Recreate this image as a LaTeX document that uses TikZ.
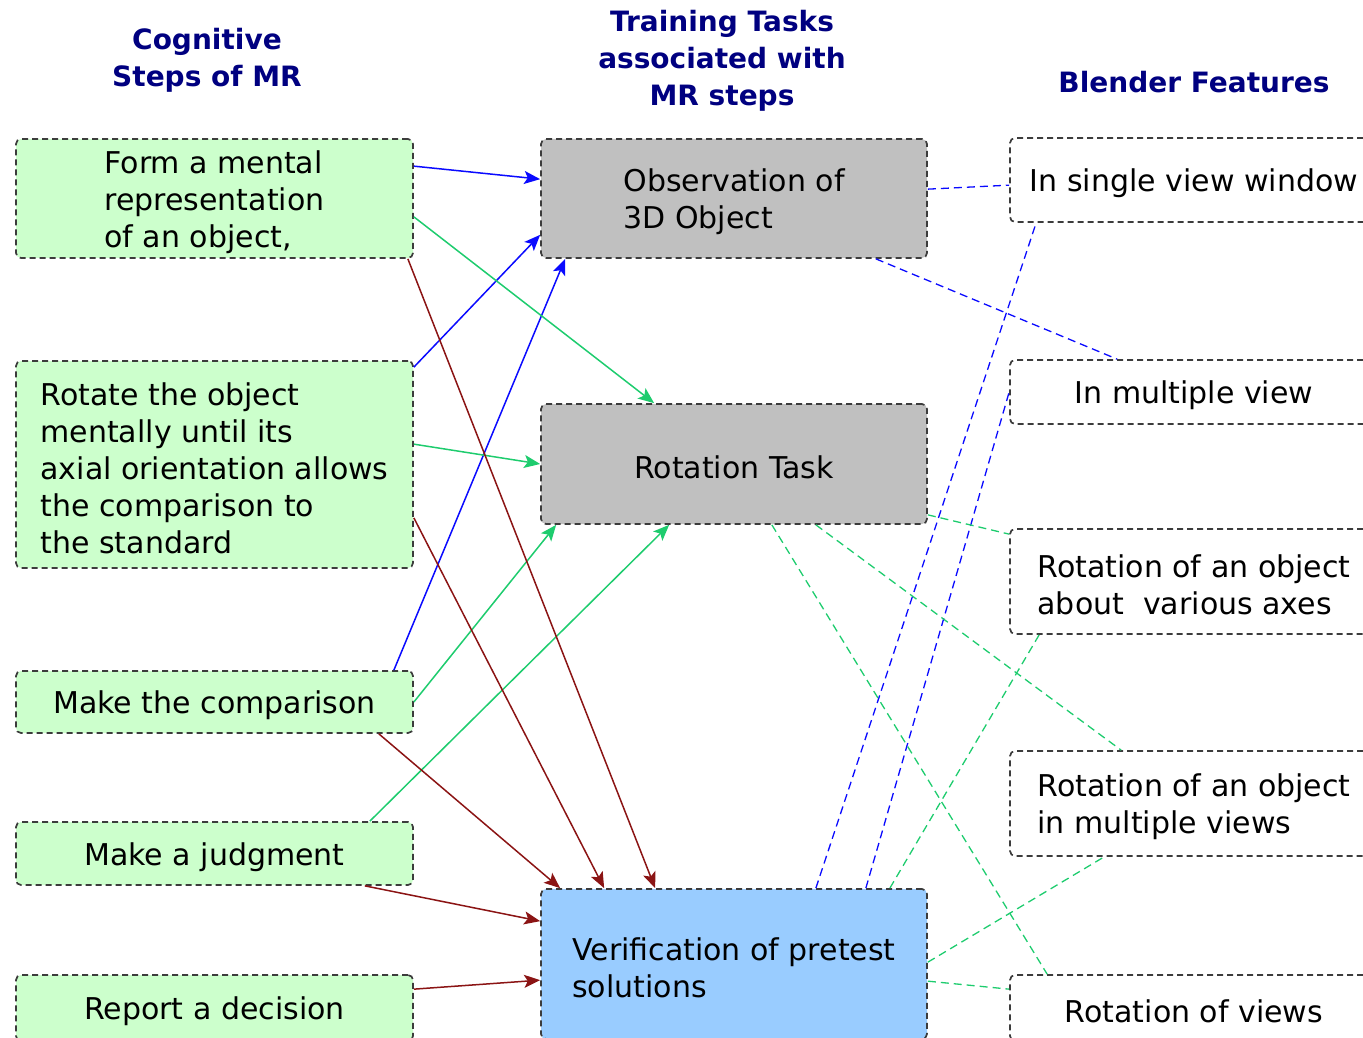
\documentclass[tikz,border=0pt]{standalone}
\usepackage{fontspec}
\setmainfont{DejaVu Sans}
\usetikzlibrary{positioning, calc, arrows.meta}

\definecolor{stepgreen}{RGB}{204,255,204}
\definecolor{taskgray}{RGB}{192,192,192}
\definecolor{verifyblue}{RGB}{153,204,255}
\definecolor{headnavy}{RGB}{0,0,128}
\definecolor{linkblue}{RGB}{10,10,255}
\definecolor{linkgreen}{RGB}{30,204,110}
\definecolor{linkred}{RGB}{139,20,20}
\definecolor{boxborder}{RGB}{60,60,60}

\newcommand{\topstrut}{\rule{0pt}{15pt}}

\begin{document}
\begin{tikzpicture}[x=0.5pt, y=-0.5pt,
  box/.style={rectangle, draw=boxborder, line width=0.85pt, dash pattern=on 3pt off 2pt, rounded corners=2.5pt, inner sep=0pt, align=left, font=\fontsize{15}{18.5}\selectfont, execute at begin node={\topstrut}},
  stepbox/.style={box, fill=stepgreen, minimum width=198.5pt},
  taskbox/.style={box, fill=taskgray, minimum width=193pt},
  featbox/.style={box, fill=white, minimum width=184pt},
  headnode/.style={align=center, text=headnavy, font=\bfseries\fontsize{14}{18.5}\selectfont},
  arr/.style={-{Stealth[length=8pt, width=6.5pt, inset=1.8pt]}, line width=0.75pt},
  link/.style={line width=0.65pt, dash pattern=on 4pt off 2.5pt}]
\useasboundingbox (0,0) rectangle (1363,1037);
\clip (0,0) rectangle (1363,1037);

% column heads
\node[headnode] (headsteps) at (207,60) {Cognitive\\Steps of MR};
\node[headnode] (headtasks) at (722,61) {Training Tasks\\associated with\\MR steps};
\node[headnode] (headblend) at (1194,82) {Blender Features};

% cognitive steps
\node[stepbox, minimum height=59.5pt] (form) at (214.5,198.5) {\topstrut Form a mental\\representation\\of an object,};
\node[stepbox, minimum height=103.5pt] (rotate) at (214.5,464.5) {\topstrut Rotate the object\\mentally until its\\axial orientation allows\\the comparison to\\the standard};
\node[stepbox, minimum height=31pt] (compare) at (214.5,702) {Make the comparison};
\node[stepbox, minimum height=31.5pt] (judge) at (214.5,853.5) {Make a judgment};
\node[stepbox, minimum height=33pt] (report) at (214.5,1008) {Report a decision};

% training tasks
\node[taskbox, minimum height=59.5pt] (observe) at (734,198.5) {\topstrut Observation of\\3D Object};
\node[taskbox, minimum height=60pt] (rottask) at (734,464) {Rotation Task};
\node[taskbox, fill=verifyblue, minimum height=75pt] (verify) at (734,964) {\topstrut Verification of pretest\\solutions};

% blender features
\node[featbox, minimum height=42pt] (single) at (1194,180) {In single view window};
\node[featbox, minimum height=32pt] (multi) at (1194,392) {In multiple view};
\node[featbox, minimum height=52.5pt] (rotaxes) at (1194,581.5) {\topstrut Rotation of an object\\about\ \ various axes};
\node[featbox, minimum height=52.5pt] (rotmulti) at (1194,803.5) {\topstrut Rotation of an object\\in multiple views};
\node[featbox, minimum height=33pt] (rotviews) at (1194,1008) {Rotation of views};

% steps -> observation
\draw[arr, linkblue] ($(form.north east)+(0,28)$) -- ($(observe.north west)+(0,41)$);
\draw[arr, linkblue] ($(rotate.north east)+(0,7)$) -- ($(observe.south west)+(0,-24)$);
\draw[arr, linkblue] ($(compare.north east)+(-20,0)$) -- ($(observe.south west)+(25,0)$);

% steps -> rotation task
\draw[arr, linkgreen] ($(form.south east)+(0,-42)$) -- ($(rottask.north west)+(114,0)$);
\draw[arr, linkgreen] ($(rotate.north east)+(0,84)$) -- (rottask.west);
\draw[arr, linkgreen] (compare.east) -- ($(rottask.south west)+(16,0)$);
\draw[arr, linkgreen] ($(judge.north east)+(-44,0)$) -- ($(rottask.south west)+(129,0)$);

% steps -> verification
\draw[arr, linkred] ($(form.south east)+(-6,0)$) -- ($(verify.north west)+(115,0)$);
\draw[arr, linkred] ($(rotate.south east)+(0,-51)$) -- ($(verify.north west)+(64,0)$);
\draw[arr, linkred] ($(compare.south east)+(-35,0)$) -- ($(verify.north west)+(20,0)$);
\draw[arr, linkred] ($(judge.south east)+(-49,0)$) -- ($(verify.north west)+(0,33)$);
\draw[arr, linkred] ($(report.north east)+(0,15)$) -- ($(verify.north west)+(0,92)$);

% tasks -- features
\draw[link, linkblue] ($(observe.north east)+(0,51)$) -- ($(single.north west)+(0,48)$);
\draw[link, linkblue] ($(observe.south east)+(-52,0)$) -- ($(multi.north west)+(108,0)$);
\draw[link, linkblue] ($(verify.north east)+(-112,0)$) -- ($(single.south west)+(27,0)$);
\draw[link, linkblue] ($(verify.north east)+(-62,0)$) -- (multi.west);
\draw[link, linkgreen] ($(rottask.south east)+(0,-10)$) -- ($(rotaxes.north west)+(0,6)$);
\draw[link, linkgreen] ($(rottask.south east)+(-112,0)$) -- ($(rotmulti.north west)+(112,0)$);
\draw[link, linkgreen] ($(rottask.south east)+(-156,0)$) -- ($(rotviews.north west)+(38,0)$);
\draw[link, linkgreen] ($(verify.north east)+(-38,0)$) -- ($(rotaxes.south west)+(30,0)$);
\draw[link, linkgreen] ($(verify.north east)+(0,74)$) -- ($(rotmulti.south west)+(95,0)$);
\draw[link, linkgreen] ($(verify.north east)+(0,93)$) -- ($(rotviews.north west)+(0,15)$);
\end{tikzpicture}
\end{document}
